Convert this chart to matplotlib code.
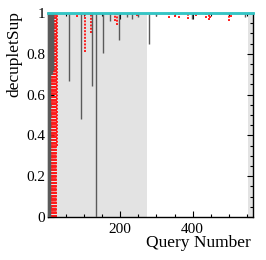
import matplotlib
matplotlib.use("Agg")
import matplotlib.pyplot as plt
import numpy as np
from matplotlib.ticker import MultipleLocator, FixedLocator, FuncFormatter

plt.rcParams['font.family'] = ['Liberation Serif', 'DejaVu Serif']

# shaded query ranges
shade_ranges = [(0, 275), (552, 567)]

# gray series: query numbers and values where they drop below 1
gray_q = [0, 1, 2, 3, 4, 5, 6, 7, 8, 9, 10, 11, 12, 13, 14,
          59, 92, 122, 134, 151, 172, 197, 218, 233, 249, 278, 299, 399, 545]
gray_v = [0, 0, 0, 0, 0, 0, 0.7, 0.7, 0.7, 0.7, 0.7, 0.72, 0.72, 0.72, 0.72,
          0.667, 0.48, 0.64, 0.0, 0.805, 0.96, 0.87, 0.98, 0.97, 0.98, 0.85, 0.985, 0.97, 0.98]

# red series (dotted)
red_q = [7, 8, 9, 10, 11, 12, 13, 14, 15, 16, 17, 18, 19, 20, 21, 22, 24,
         80, 101, 120, 186, 190, 245, 335, 350, 362, 388, 410, 437, 445, 448, 500, 505]
red_v = [0, 0, 0, 0, 0, 0, 0, 0, 0, 0, 0, 0, 0, 0, 0, 0, 0.35,
         0.98, 0.81, 0.90, 0.96, 0.94, 0.985, 0.975, 0.98, 0.975, 0.97, 0.985,
         0.975, 0.965, 0.975, 0.96, 0.98]

# cyan series (constant at 1)
cyan_q = [0, 567]
cyan_v = [1, 1]

fig = plt.figure(figsize=(2.66, 2.60), dpi=100)
ax = fig.add_axes([48/266, 43/260, 205/266, 204/260])

for a, b in shade_ranges:
    ax.axvspan(a, b, color='#e3e3e3', lw=0, zorder=0)

ax.vlines(red_q, red_v, 1, colors='#ff1a1a', linestyles=(0, (1, 0.7)), lw=1.4, zorder=2)
ax.vlines(gray_q, gray_v, 1, colors='#5a5a5a', lw=1.0, zorder=3)
ax.plot(cyan_q, cyan_v, color='#33c6c6', lw=2.0, zorder=5, clip_on=False)

ax.set_xlim(0, 567)
ax.set_ylim(0, 1)
ax.xaxis.set_major_locator(FixedLocator([200, 400]))
ax.xaxis.set_minor_locator(MultipleLocator(50))
ax.yaxis.set_major_locator(MultipleLocator(0.2))
ax.yaxis.set_minor_locator(MultipleLocator(0.05))
ax.yaxis.set_major_formatter(FuncFormatter(lambda v, p: f"{v:g}"))
ax.tick_params(which='both', direction='in', top=True, right=True, labelsize=11, width=0.8)
ax.tick_params(axis='y', pad=2)
ax.tick_params(axis='x', pad=4)
ax.tick_params(which='major', length=4.5)
ax.tick_params(which='minor', length=2.5)
for s in ax.spines.values():
    s.set_linewidth(1.0)

ax.set_ylabel('decupletSup', fontsize=12.5)
ax.yaxis.label.set(rotation_mode='default', va='top', ha='center')
ax.yaxis.set_label_coords(-0.166, 1.01)
ax.set_xlabel('Query Number', fontsize=12.5)
ax.xaxis.label.set(ha='right', va='center')
ax.xaxis.set_label_coords(0.99, -0.127)

fig.savefig('out.png', dpi=100)
